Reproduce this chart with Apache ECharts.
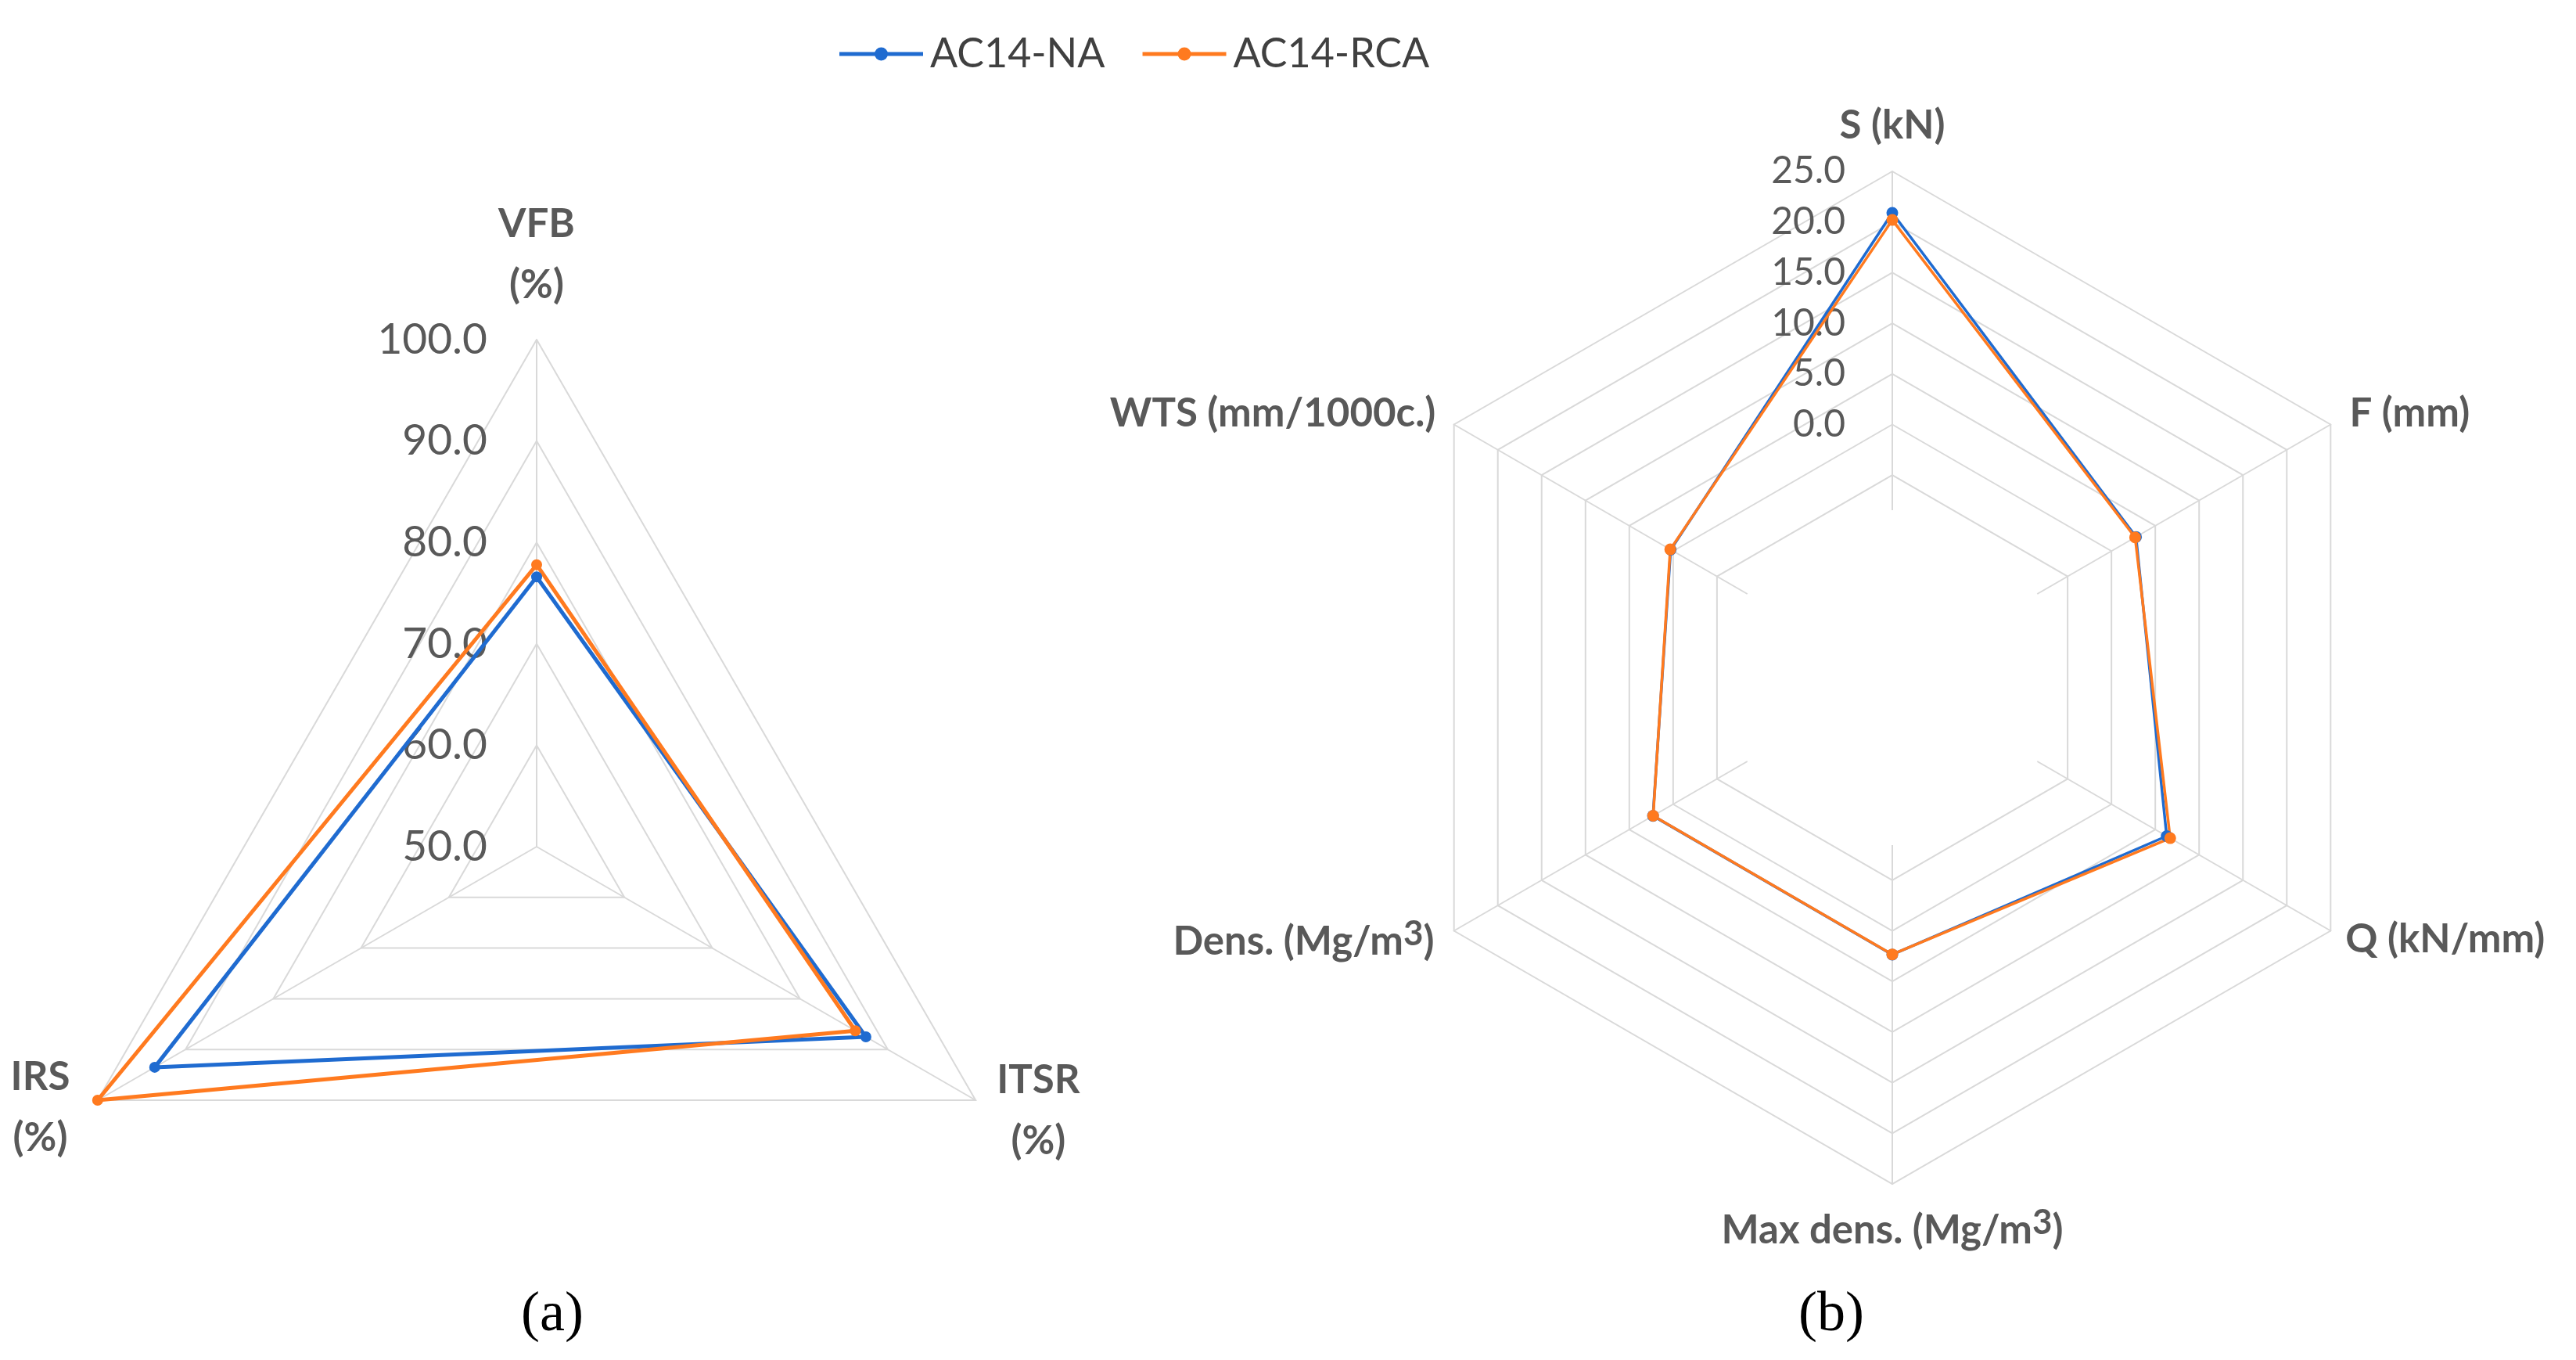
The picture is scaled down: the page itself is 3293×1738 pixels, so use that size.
<!DOCTYPE html>
<html>
<head>
<meta charset="utf-8">
<script src="https://cdn.jsdelivr.net/npm/echarts@6/dist/echarts.min.js"></script>
<style>
  html, body { margin: 0; padding: 0; background: #ffffff; }
  #chart { width: 3293px; height: 1738px; }
</style>
</head>
<body>
<div id="chart"></div>
<script>
// ---- Data (clockwise order, as in the original chart) ----
const seriesNames = ['AC14-NA', 'AC14-RCA'];

// Panel (a)
const categoriesA = ['VFB (%)', 'ITSR (%)', 'IRS (%)'];
const naA = [76.6, 87.5, 93.5];
const rcaA = [77.8, 86.3, 100.0];
const ticksA = [50, 60, 70, 80, 90, 100];

// Panel (b)
const categoriesB = ['S (kN)', 'F (mm)', 'Q (kN/mm)', 'Max dens. (Mg/m3)', 'Dens. (Mg/m3)', 'WTS (mm/1000c.)'];
const naB = [20.9, 2.8, 6.3, 2.35, 2.3, 0.28];
const rcaB = [20.2, 2.7, 6.7, 2.33, 2.28, 0.33];
const ticksB = [-25, -20, -15, -10, -5, 0, 5, 10, 15, 20, 25];

const colors = ['#1F6BD0', '#FF7A1F'];
const gridColor = '#d9d9d9';
const textGray = '#595959';

// ECharts places indicators counter-clockwise; reorder to keep the original clockwise order
function ccw(arr) { return [arr[0]].concat(arr.slice(1).reverse()); }

const centerA = [686, 1082];
const centerB = [2419, 866];
const radiusA = 648;
const radiusB = 647;

const nameGapA = { 'VFB (%)': 30, 'ITSR (%)': 28, 'IRS (%)': 20 };
const nameGapB = { 'S (kN)': 28, 'F (mm)': 28, 'Q (kN/mm)': 22, 'Max dens. (Mg/m3)': 30, 'Dens. (Mg/m3)': 29, 'WTS (mm/1000c.)': 27 };

function nameFormatterA(name) {
  const parts = name.split(' ');
  return '{w|' + parts[0] + '}\n{w|' + parts[1] + '}';
}
function nameFormatterB(name) {
  if (name.indexOf('m3)') >= 0) {
    const base = name.replace('m3)', 'm');
    return '{t|' + base + '}{s|3}{t|)}';
  }
  return '{t|' + name + '}';
}

const nameBase = { color: textGray, fontFamily: 'Lato', fontWeight: 'bold', fontSize: 51 };

const indicatorsA = ccw(categoriesA).map((c, i) => ({
  name: c, min: ticksA[0], max: ticksA[ticksA.length - 1], nameGap: nameGapA[c],
  axisLabel: i === 0 ? { show: true } : { show: false }
}));
const indicatorsB = ccw(categoriesB).map((c, i) => ({
  name: c, min: ticksB[0], max: ticksB[ticksB.length - 1], nameGap: nameGapB[c],
  axisLabel: i === 0 ? { show: true } : { show: false }
}));

const splitColorsB = ticksB.map(v => (v < -5 ? 'rgba(0,0,0,0)' : gridColor));

const legendIcon = 'path://M0,6L107,6L107,11L0,11Z M45,8.5A8.5,8.5 0 1 1 62,8.5A8.5,8.5 0 1 1 45,8.5Z';

const chart = echarts.init(document.getElementById('chart'), null, { renderer: 'canvas' });

const option = {
  backgroundColor: '#ffffff',
  animation: false,
  title: [
    { text: '(a)', left: 701, top: 1636, textAlign: 'center',
      textStyle: { fontFamily: 'Liberation Serif', fontWeight: 'normal', fontSize: 72, color: '#000', lineHeight: 80 } },
    { text: '(b)', left: 2336, top: 1636, textAlign: 'center',
      textStyle: { fontFamily: 'Liberation Serif', fontWeight: 'normal', fontSize: 72, color: '#000', lineHeight: 80 } }
  ],
  legend: {
    data: seriesNames,
    left: 1068, top: 38,
    icon: legendIcon,
    itemWidth: 107, itemHeight: 17, itemGap: 48,
    itemStyle: { borderWidth: 0 },
    textStyle: { fontFamily: 'Lato', fontSize: 52, color: '#404040', lineHeight: 52, padding: [0, 0, 0, 4] }
  },
  radar: [
    {
      center: centerA, radius: radiusA, startAngle: 90, shape: 'polygon', splitNumber: ticksA.length - 1,
      indicator: indicatorsA,
      axisName: Object.assign({}, nameBase, {
        formatter: nameFormatterA,
        rich: { w: Object.assign({}, nameBase, { width: 112, align: 'center', lineHeight: 78 }) }
      }),
      axisLine: { lineStyle: { color: gridColor, width: 2 } },
      splitLine: { lineStyle: { color: gridColor, width: 2 } },
      splitArea: { show: false },
      axisTick: { show: false },
      axisLabel: { show: false, margin: 63, color: textGray, fontFamily: 'Lato', fontSize: 55,
        formatter: v => Number(v).toFixed(1) }
    },
    {
      center: centerB, radius: radiusB, startAngle: 90, shape: 'polygon', splitNumber: ticksB.length - 1,
      indicator: indicatorsB,
      axisName: Object.assign({}, nameBase, {
        formatter: nameFormatterB,
        rich: {
          t: Object.assign({}, nameBase, { lineHeight: 60 }),
          s: Object.assign({}, nameBase, { fontSize: 44, lineHeight: 40, padding: [0, 0, 20, 0] })
        }
      }),
      axisLine: { lineStyle: { color: gridColor, width: 2 } },
      splitLine: { lineStyle: { color: splitColorsB, width: 2 } },
      splitArea: { show: false },
      axisTick: { show: false },
      axisLabel: { show: false, margin: 60, color: textGray, fontFamily: 'Lato', fontSize: 48,
        formatter: v => (Number(v) < 0 ? '' : Number(v).toFixed(1)) }
    }
  ],
  graphic: [
    { type: 'circle', z: 100, silent: true,
      shape: { cx: centerB[0], cy: centerB[1], r: 214 }, style: { fill: '#ffffff' } }
  ],
  series: [
    {
      type: 'radar', radarIndex: 0, symbol: 'circle', symbolSize: 14,
      data: [
        { name: seriesNames[0], value: ccw(naA),
          itemStyle: { color: colors[0] }, lineStyle: { color: colors[0], width: 5 } },
        { name: seriesNames[1], value: ccw(rcaA),
          itemStyle: { color: colors[1] }, lineStyle: { color: colors[1], width: 5 } }
      ]
    },
    {
      type: 'radar', radarIndex: 1, symbol: 'circle', symbolSize: 15,
      data: [
        { name: seriesNames[0], value: ccw(naB),
          itemStyle: { color: colors[0] }, lineStyle: { color: colors[0], width: 3.5 } },
        { name: seriesNames[1], value: ccw(rcaB),
          itemStyle: { color: colors[1] }, lineStyle: { color: colors[1], width: 3.5 } }
      ]
    }
  ]
};
chart.setOption(option);
</script>
</body>
</html>
